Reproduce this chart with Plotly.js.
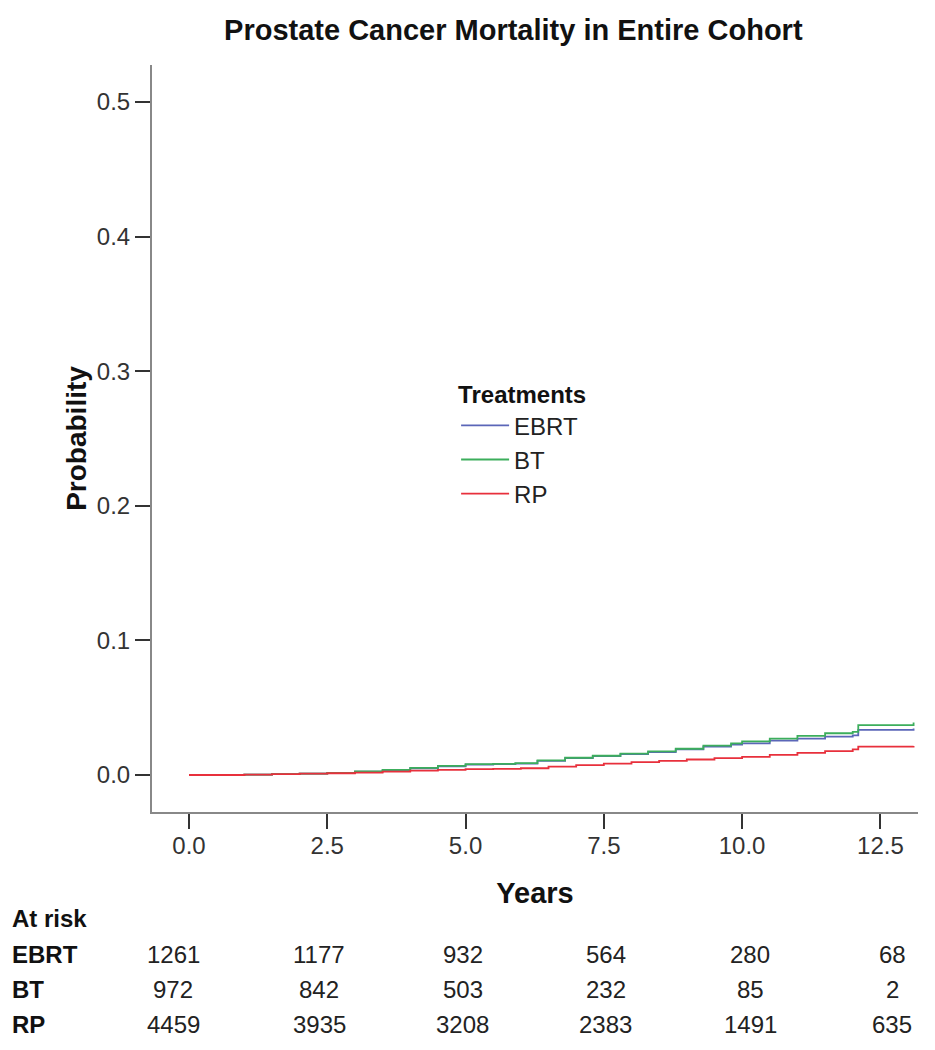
<!DOCTYPE html>
<html>
<head>
<meta charset="utf-8">
<script src="https://cdn.plot.ly/plotly-3.0.1.min.js"></script>
<style>body{margin:0;background:#fff}#chart{width:935px;height:1050px}</style>
</head>
<body>
<div id="chart"></div>
<script>
// ---- data ----
const treatments = ["EBRT", "BT", "RP"];
const colors = ["#5b66b8", "#3cae5c", "#e8303c"];

const ebrtYears = [0, 1.0, 1.5, 2.0, 2.5, 3.0, 3.5, 4.0, 4.5, 5.0, 5.5, 5.9, 6.3, 6.8, 7.3, 7.8, 8.3, 8.8, 9.3, 9.8, 10.0, 10.5, 11.0, 11.5, 12.0, 12.1, 13.1];
const ebrtProb  = [0, 0.0003, 0.0006, 0.001, 0.0015, 0.0025, 0.0035, 0.005, 0.0065, 0.0077, 0.008, 0.0085, 0.0105, 0.0125, 0.014, 0.0155, 0.017, 0.019, 0.021, 0.0225, 0.0235, 0.0255, 0.027, 0.0285, 0.0295, 0.0335, 0.0345];

const btYears = [0, 1.0, 1.5, 2.0, 2.5, 3.0, 3.5, 4.0, 4.5, 5.0, 5.5, 5.9, 6.3, 6.8, 7.3, 7.8, 8.3, 8.8, 9.3, 9.8, 10.0, 10.5, 11.0, 11.5, 12.0, 12.1, 13.1];
const btProb  = [0, 0.0003, 0.0006, 0.001, 0.0016, 0.0027, 0.0038, 0.0053, 0.0068, 0.008, 0.0083, 0.0088, 0.0108, 0.0128, 0.0143, 0.0158, 0.0175, 0.0195, 0.0218, 0.0235, 0.025, 0.027, 0.029, 0.031, 0.032, 0.037, 0.039];

const rpYears = [0, 1.0, 1.5, 2.0, 2.5, 3.0, 3.5, 4.0, 4.5, 5.0, 5.5, 6.0, 6.5, 7.0, 7.5, 8.0, 8.5, 9.0, 9.5, 10.0, 10.5, 11.0, 11.5, 12.0, 12.1, 13.1];
const rpProb  = [0, 0.0003, 0.0006, 0.001, 0.0013, 0.0018, 0.0025, 0.0032, 0.0038, 0.0043, 0.0046, 0.005, 0.0062, 0.0073, 0.0085, 0.0095, 0.0105, 0.0115, 0.0125, 0.0135, 0.015, 0.0165, 0.0178, 0.019, 0.021, 0.0215];

const xTicks = [0, 2.5, 5, 7.5, 10, 12.5];
const xTickText = ["0.0", "2.5", "5.0", "7.5", "10.0", "12.5"];
const yTicks = [0, 0.1, 0.2, 0.3, 0.4, 0.5];
const yTickText = ["0.0", "0.1", "0.2", "0.3", "0.4", "0.5"];

const riskTimes = [0, 2.5, 5, 7.5, 10, 12.5];
const riskEBRT = [1261, 1177, 932, 564, 280, 68];
const riskBT   = [972, 842, 503, 232, 85, 2];
const riskRP   = [4459, 3935, 3208, 2383, 1491, 635];

// ---- chart ----
const xs = [ebrtYears, btYears, rpYears];
const ys = [ebrtProb, btProb, rpProb];
const traces = treatments.map((name, i) => ({
  type: "scatter", mode: "lines", name: name,
  x: xs[i], y: ys[i],
  line: {shape: "hv", color: colors[i], width: 1.8}
}));

const font = "Liberation Sans, Arial, sans-serif";
const riskShift = [-16, -8, -3, 2, 8, 12];
const annotations = [];
annotations.push({xref: "paper", yref: "paper", x: -0.186, y: -0.142, xanchor: "left", yanchor: "middle",
  text: "<b>At risk</b>", showarrow: false, font: {family: font, size: 24, color: "#111"}});
const rows = [riskEBRT, riskBT, riskRP];
const rowY = [-0.191, -0.238, -0.284];
rows.forEach((row, r) => {
  annotations.push({xref: "paper", yref: "paper", x: -0.186, y: rowY[r], xanchor: "left", yanchor: "middle",
    text: "<b>" + treatments[r] + "</b>", showarrow: false, font: {family: font, size: 24, color: "#111"}});
  row.forEach((v, c) => {
    annotations.push({xref: "x", yref: "paper", x: riskTimes[c], xshift: riskShift[c], y: rowY[r],
      xanchor: "center", yanchor: "middle", text: String(v), showarrow: false,
      font: {family: font, size: 24, color: "#222"}});
  });
});

const layout = {
  width: 935, height: 1050,
  margin: {l: 152, r: 17, t: 65, b: 238},
  paper_bgcolor: "#fff", plot_bgcolor: "#fff",
  font: {family: font, color: "#333"},
  title: {text: "<b>Prostate Cancer Mortality in Entire Cohort</b>", font: {family: font, size: 29, color: "#111"},
    x: 0.549, xref: "container", xanchor: "center", y: 0.972, yref: "container", yanchor: "middle"},
  xaxis: {range: [-0.669, 13.18], tickvals: xTicks, ticktext: xTickText, showgrid: false, zeroline: false,
    showline: true, linecolor: "#888", linewidth: 2, ticks: "outside", ticklen: 15, tickwidth: 2, tickcolor: "#333",
    tickfont: {size: 24, color: "#333"}, ticklabelstandoff: -4,
    title: {text: "<b>Years</b>", font: {size: 29, color: "#111"}, standoff: 25}},
  yaxis: {range: [-0.0275, 0.5275], tickvals: yTicks, ticktext: yTickText, showgrid: false, zeroline: false,
    showline: true, linecolor: "#888", linewidth: 2, ticks: "outside", ticklen: 15, tickwidth: 2, tickcolor: "#333",
    tickfont: {size: 24, color: "#333"},
    title: {text: "<b>Probability</b>", font: {size: 28, color: "#111"}, standoff: 2}},
  legend: {x: 0.397, y: 0.589, xanchor: "left", yanchor: "top", bgcolor: "rgba(0,0,0,0)",
    title: {text: "<b>Treatments</b>", font: {size: 24, color: "#111"}, side: "top"},
    font: {size: 24, color: "#222"}, tracegroupgap: 0, itemwidth: 48},
  annotations: annotations,
  showlegend: true
};

Plotly.newPlot("chart", traces, layout, {displayModeBar: false, staticPlot: true});
</script>
</body>
</html>
